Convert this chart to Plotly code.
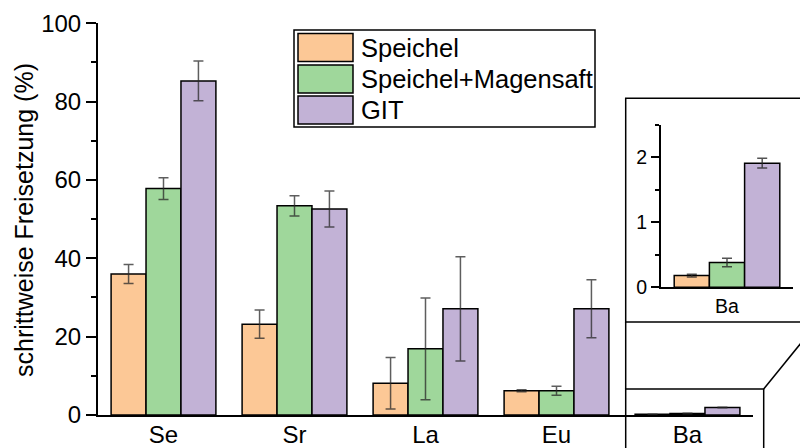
import plotly.graph_objects as go

W, H = 808, 448
OFF = 8  # page body margin offset

categories = ["Se", "Sr", "La", "Eu", "Ba"]
series_names = ["Speichel", "Speichel+Magensaft", "GIT"]
speichel = [36.0, 23.2, 8.1, 6.2, 0.18]
speichel_err = [2.4, 3.6, 6.6, 0.25, 0.02]
magensaft = [57.8, 53.4, 16.9, 6.2, 0.38]
magensaft_err = [2.8, 2.6, 13.0, 1.15, 0.065]
git = [85.3, 52.6, 27.1, 27.1, 1.91]
git_err = [5.1, 4.6, 13.3, 7.4, 0.075]
y_ticks = [0, 20, 40, 60, 80, 100]
inset_ticks = [0, 1, 2]

colors = ["#FCC896", "#9FD79B", "#C2B2D6"]
values = [speichel, magensaft, git]
errors = [speichel_err, magensaft_err, git_err]

FONT = "Arial, Liberation Sans, sans-serif"


def px(x):
    return (x - OFF) / W


def py(y):
    return 1 - (y - OFF) / H


fig = go.Figure()

for name, vals, errs, col in zip(series_names, values, errors, colors):
    fig.add_trace(go.Bar(
        x=categories, y=vals, name=name,
        marker=dict(color=col, line=dict(color="black", width=1.5)),
        error_y=dict(type="data", array=errs, visible=True,
                     color="rgba(40,40,40,0.75)", thickness=1.5, width=5),
        xaxis="x", yaxis="y", showlegend=False,
    ))
    fig.add_trace(go.Bar(
        x=categories[-1:], y=vals[-1:], name=name,
        marker=dict(color=col, line=dict(color="black", width=1.5)),
        error_y=dict(type="data", array=errs[-1:], visible=True,
                     color="rgba(40,40,40,0.8)", thickness=1.5, width=5),
        xaxis="x2", yaxis="y2", showlegend=False,
    ))

shapes = []
annotations = []

# custom legend
shapes.append(dict(type="rect", xref="paper", yref="paper",
                   x0=px(294), x1=px(595), y0=py(127), y1=py(30),
                   line=dict(color="black", width=1.5), fillcolor="white", layer="below"))
row_tops = [33.5, 65, 96]
for i, (name, col) in enumerate(zip(series_names, colors)):
    t = row_tops[i]
    shapes.append(dict(type="rect", xref="paper", yref="paper",
                       x0=px(298), x1=px(353), y0=py(t + 28), y1=py(t),
                       line=dict(color="black", width=1.5), fillcolor=col))
    annotations.append(dict(xref="paper", yref="paper", x=px(359), y=py(t + 14),
                            text=name, showarrow=False, xanchor="left", yanchor="middle",
                            font=dict(family=FONT, size=25.5, color="black")))

# y-axis title
annotations.append(dict(xref="paper", yref="paper", x=px(24), y=py(220),
                        text="schrittweise Freisetzung (%)", textangle=-90,
                        showarrow=False, xanchor="center", yanchor="middle",
                        font=dict(family=FONT, size=25, color="black")))

# inset and zoom boxes
line_style = dict(color="black", width=1.5)
shapes.append(dict(type="rect", xref="paper", yref="paper",
                   x0=px(625.7), x1=px(818), y0=py(322), y1=py(98.3), line=line_style))
shapes.append(dict(type="rect", xref="paper", yref="paper",
                   x0=px(625.7), x1=px(763.7), y0=py(470), y1=py(389), line=line_style))
shapes.append(dict(type="line", xref="paper", yref="paper",
                   x0=px(625.7), x1=px(625.7), y0=py(389), y1=py(322), line=line_style))
shapes.append(dict(type="line", xref="paper", yref="paper",
                   x0=px(763.7), x1=px(818), y0=py(389), y1=py(322), line=line_style))

fig.update_layout(
    width=W, height=H, autosize=False,
    margin=dict(l=0, r=0, t=0, b=0, pad=0, autoexpand=False),
    paper_bgcolor="white", plot_bgcolor="rgba(0,0,0,0)",
    barmode="group", bargap=0.2, bargroupgap=0,
    font=dict(family=FONT, size=24, color="black"),
    xaxis=dict(domain=[px(98), px(753)], anchor="y", type="category",
               categoryorder="array", categoryarray=categories, automargin=False,
               range=[-0.5, 4.5], showline=True, linecolor="black", linewidth=2,
               ticks="", showgrid=False, zeroline=False, ticklabelstandoff=-3,
               tickfont=dict(family=FONT, size=24, color="black")),
    yaxis=dict(domain=[py(415), py(23.3)], anchor="x", range=[0, 100], automargin=False,
               tickvals=y_ticks, ticks="outside", ticklen=10, tickwidth=1.5,
               tickcolor="black", showline=True, linecolor="black", linewidth=2,
               showgrid=False, zeroline=False,
               minor=dict(dtick=10, tick0=0, ticks="outside", ticklen=5,
                          tickwidth=1.5, tickcolor="black", showgrid=False),
               tickfont=dict(family=FONT, size=24, color="black")),
    xaxis2=dict(domain=[px(661), px(793)], anchor="y2", type="category", automargin=False,
                range=[-0.5, 0.5], showline=True, linecolor="black", linewidth=2,
                ticks="", showgrid=False, zeroline=False,
                tickfont=dict(family=FONT, size=19.5, color="black")),
    yaxis2=dict(domain=[py(287.3), py(124.8)], anchor="x2", range=[0, 2.5], automargin=False,
                tickvals=inset_ticks, ticks="outside", ticklen=8, tickwidth=1.5,
                tickcolor="black", showline=True, linecolor="black", linewidth=2,
                showgrid=False, zeroline=False,
                minor=dict(dtick=0.5, tick0=0, ticks="outside", ticklen=4,
                           tickwidth=1.5, tickcolor="black", showgrid=False),
                tickfont=dict(family=FONT, size=19.5, color="black")),
    shapes=shapes,
    annotations=annotations,
)

fig.write_html("out.html")
